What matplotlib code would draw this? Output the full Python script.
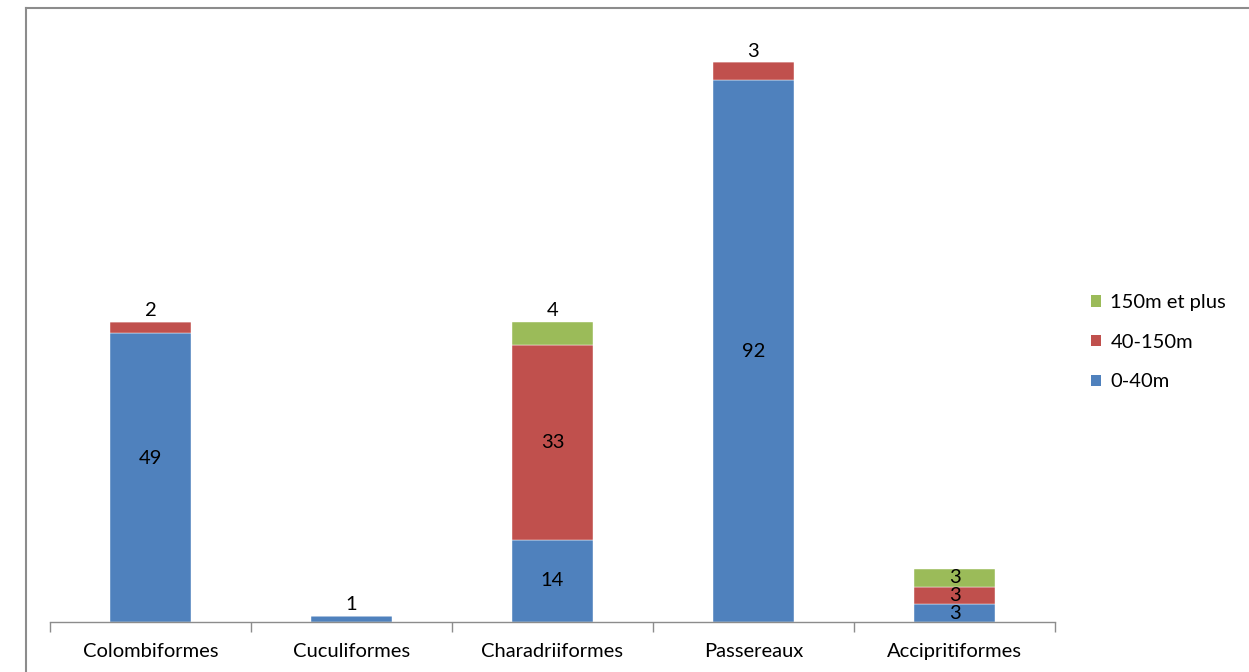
import matplotlib
matplotlib.use("Agg")
import matplotlib.pyplot as plt
from matplotlib.patches import Patch
from matplotlib.lines import Line2D
import numpy as np

plt.rcParams['font.family'] = ['Lato', 'DejaVu Sans']

categories = ["Colombiformes", "Cuculiformes", "Charadriiformes", "Passereaux", "Accipritiformes"]
series_names = ["0-40m", "40-150m", "150m et plus"]
low = [49, 1, 14, 92, 3]
mid = [2, 0, 33, 3, 3]
high = [0, 0, 4, 0, 3]
colors = ["#4F81BD", "#C0504D", "#9BBB59"]

fig = plt.figure(figsize=(12.49, 6.72), dpi=100)
ax = fig.add_axes([50 / 1249, 50 / 672, 1005 / 1249, 589 / 672])

x = np.arange(len(categories))
width = 0.4
fs = 14.5
totals = np.array(low) + np.array(mid) + np.array(high)

bottom = np.zeros(len(categories))
for k, (vals, col) in enumerate(zip([low, mid, high], colors)):
    vals = np.array(vals, dtype=float)
    ax.bar(x, vals, width, bottom=bottom, color=col, edgecolor="white",
           linewidth=0.3, zorder=2)
    for i, v in enumerate(vals):
        if v <= 0:
            continue
        top = bottom[i] + v
        if v >= 6 or categories[i] == "Accipritiformes":
            # label inside the segment; the first Colombiformes label sits a bit higher
            ypos = bottom[i] + v / 2 + (3.2 if (i == 0 and k == 0) else 0)
            ax.text(x[i], ypos, f"{int(v)}", ha="center", va="center",
                    fontsize=fs, color="black", zorder=3)
        elif top == totals[i]:
            ax.text(x[i], top + 1.9, f"{int(v)}", ha="center", va="center",
                    fontsize=fs, color="black", zorder=3)
    bottom += vals

ax.set_xlim(-0.5, len(categories) - 0.5)
ax.set_ylim(0, 100)
ax.set_yticks([])
for s in ["top", "right", "left"]:
    ax.spines[s].set_visible(False)
ax.spines["bottom"].set_color("#8C8C8C")
ax.spines["bottom"].set_linewidth(1.0)

ax.set_xticks(x)
ax.set_xticklabels(categories, fontsize=fs)
ax.tick_params(axis="x", which="major", length=0, pad=15)
ax.set_xticks(np.arange(-0.5, len(categories)), minor=True)
ax.tick_params(axis="x", which="minor", length=7, color="#8C8C8C", width=1.0)

handles = [Patch(facecolor=c, edgecolor="none") for c in colors][::-1]
labels = series_names[::-1]
leg = ax.legend(handles, labels, loc="center left", bbox_to_anchor=(1.036, 0.475),
                frameon=False, fontsize=fs, handlelength=0.5, handleheight=0.5,
                handletextpad=0.45, labelspacing=1.13, borderpad=0, borderaxespad=0)

# outer frame (top and left edges)
fig.add_artist(Line2D([26 / 1249, 26 / 1249], [0, 1 - 8 / 672], transform=fig.transFigure,
                      color="#8C8C8C", linewidth=1.5))
fig.add_artist(Line2D([26 / 1249, 1], [1 - 8 / 672, 1 - 8 / 672], transform=fig.transFigure,
                      color="#8C8C8C", linewidth=1.5))

fig.savefig("out.png", dpi=100, facecolor="white")
